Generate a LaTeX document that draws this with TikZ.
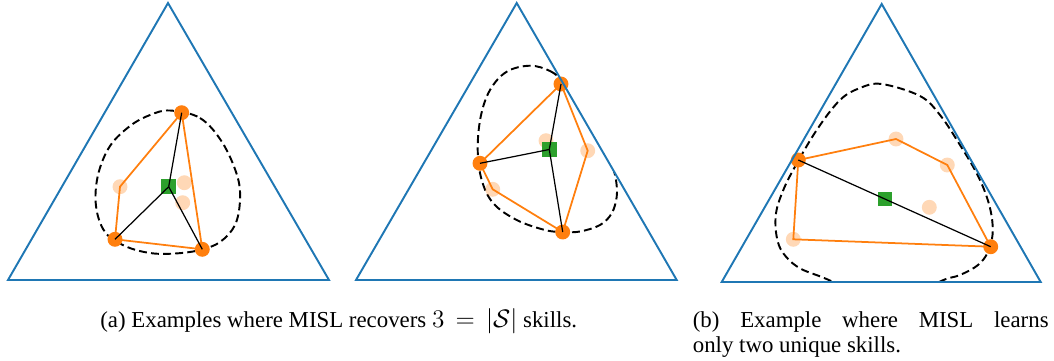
\documentclass[tikz,border=0pt]{standalone}
\usepackage{fontspec}
\setmainfont{Liberation Serif}
\definecolor{tabblue}{HTML}{1F77B4}
\definecolor{taborange}{HTML}{FF7F0E}
\definecolor{tabgreen}{HTML}{2CA02C}
\tikzset{
  simplex/.style={draw=tabblue, line width=1.1pt},
  hull/.style={draw=taborange, line width=1pt},
  spoke/.style={draw=black, line width=0.7pt},
  support/.style={draw=black, line width=1.1pt, dash pattern=on 4.5pt off 2.4pt},
  skill/.style={circle, fill=taborange, inner sep=0pt, minimum size=8.5pt},
  faint/.style={circle, fill=taborange, fill opacity=0.3, inner sep=0pt, minimum size=8.5pt},
  prior/.style={rectangle, fill=tabgreen, inner sep=0pt, minimum size=8.5pt},
  caption/.style={anchor=base west, inner sep=0pt, font=\fontsize{13}{14.4}\selectfont}
}
\begin{document}
\begin{tikzpicture}[x=0.02cm,y=-0.02cm]
\useasboundingbox (0,0) rectangle (1054,360);

\coordinate (ta) at (168,3);
\coordinate (tb) at (8,280);
\coordinate (tc) at (329,280);
\begin{scope}
\clip (ta) -- (tb) -- (tc) -- cycle;
\draw[support] plot[smooth cycle, tension=0.6] coordinates {(170,110.5) (200,118) (222,142) (237,175) (240,200) (235,225) (220,242) (200,250) (175,253.5) (150,253) (125,246) (105,232) (96,206) (98,175) (110,146) (130,126) (150,115)};
\end{scope}
\node[faint] (fa1) at (120,186.7) {};
\node[faint] (fa2) at (184.3,182.7) {};
\node[faint] (fa3) at (182.7,202.7) {};
\node[skill] (a1) at (181.7,112.7) {};
\node[skill] (a2) at (115,239.3) {};
\node[skill] (a3) at (202.3,249.3) {};
\node[prior] (ca) at (168.7,186.7) {};
\draw[hull] (a1.center) -- (fa1.center) -- (a2.center) -- (a3.center) -- cycle;
\draw[spoke] (ca.center) -- (a1.center);
\draw[spoke] (ca.center) -- (a2.center);
\draw[spoke] (ca.center) -- (a3.center);
\draw[simplex] (ta) -- (tb) -- (tc) -- cycle;

\coordinate (ua) at (516.7,3);
\coordinate (ub) at (356,280);
\coordinate (uc) at (676.7,280);
\begin{scope}
\clip (ua) -- (ub) -- (uc) -- cycle;
\draw[support] plot[smooth cycle, tension=0.6] coordinates {(530,65.7) (550,71) (564,82) (592,108) (609,135) (612,162) (616,180) (616.7,196.7) (611.7,213.3) (600,225) (580,231.5) (562.7,232) (545,230) (516.7,220) (493.3,203.3) (481.7,180) (477.7,150) (480.7,116.7) (490,90) (506.7,71.7)};
\end{scope}
\node[faint] (fb1) at (546,140.7) {};
\node[faint] (fb2) at (587.7,150.7) {};
\node[faint] (fb3) at (492.7,189.3) {};
\node[skill] (b1) at (561,84) {};
\node[skill] (b2) at (480,163.3) {};
\node[skill] (b3) at (562.7,232) {};
\node[prior] (cb) at (549.3,149.5) {};
\draw[hull] (b1.center) -- (b2.center) -- (fb3.center) -- (b3.center) -- (fb2.center) -- cycle;
\draw[spoke] (cb.center) -- (b1.center);
\draw[spoke] (cb.center) -- (b2.center);
\draw[spoke] (cb.center) -- (b3.center);
\draw[simplex] (ua) -- (ub) -- (uc) -- cycle;

\coordinate (va) at (881.7,4);
\coordinate (vb) at (721.7,282);
\coordinate (vc) at (1040.7,282);
\begin{scope}
\clip (va) -- (vb) -- (vc) -- cycle;
\draw[support] plot[smooth cycle, tension=0.6] coordinates {(881.7,84) (920,96) (940,115) (960,145) (976.7,173.3) (986.7,196.7) (991.7,216.7) (992.5,235) (988,252) (978,265) (960,275) (938,282.5) (886.7,312) (833,282) (800,268.3) (783.3,253.3) (776.7,236.7) (776,213.3) (783.3,190) (795,166.7) (816.7,130) (840,100) (860,88)};
\end{scope}
\node[faint] (fc1) at (896,139) {};
\node[faint] (fc2) at (947.3,165) {};
\node[faint] (fc3) at (929.3,207.3) {};
\node[faint] (fc4) at (793.3,239.3) {};
\node[skill] (c1) at (798.3,160) {};
\node[skill] (c2) at (990.7,246.7) {};
\node[prior] (cc) at (885,199) {};
\draw[hull] (c1.center) -- (fc1.center) -- (fc2.center) -- (c2.center) -- (fc4.center) -- cycle;
\draw[spoke] (c1.center) -- (c2.center);
\draw[simplex] (va) -- (vb) -- (vc) -- cycle;

\node[caption] (capa) at (100,327) {(a) Examples where MISL recovers {\fontsize{14.5}{16}\selectfont$3\,=\,|\mathcal{S}|$} skills.};
\node[caption] (capb) at (692.5,327.3) {\makebox[202.5pt][s]{(b) Example where MISL learns}};
\node[caption] (capc) at (692.5,352.7) {only two unique skills.};
\end{tikzpicture}
\end{document}
